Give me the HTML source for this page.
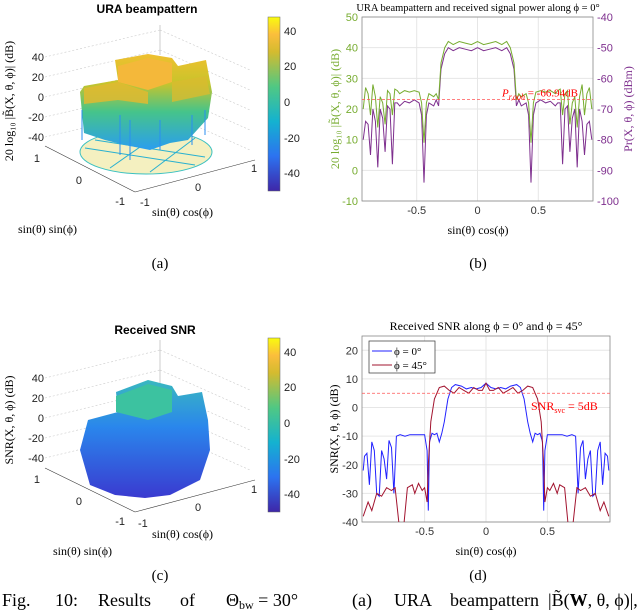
<!DOCTYPE html>
<html><head><meta charset="utf-8">
<style>
html,body{margin:0;padding:0;background:#fff;}
svg{display:block;font-family:"Liberation Sans",sans-serif;}
.serif{font-family:"Liberation Serif",serif;}
</style></head>
<body>
<svg id="fig" width="640" height="611" viewBox="0 0 640 611" xmlns="http://www.w3.org/2000/svg">
<defs>
<linearGradient id="parula" x1="0" y1="1" x2="0" y2="0">
<stop offset="0" stop-color="#3e26a8"/><stop offset="0.2" stop-color="#2c73f0"/><stop offset="0.4" stop-color="#14b2d0"/><stop offset="0.6" stop-color="#50c883"/><stop offset="0.8" stop-color="#d4bb2f"/><stop offset="0.9" stop-color="#fbbe3c"/><stop offset="1" stop-color="#f9fb0e"/>
</linearGradient>
<linearGradient id="surfA" x1="0" y1="0" x2="0" y2="1">
<stop offset="0" stop-color="#f0c030"/><stop offset="0.3" stop-color="#c9c42a"/><stop offset="0.6" stop-color="#46c48a"/><stop offset="1" stop-color="#2a9ef0"/>
</linearGradient>
<linearGradient id="surfC" x1="0" y1="0" x2="0" y2="1">
<stop offset="0" stop-color="#3ab8c0"/><stop offset="0.4" stop-color="#2a86ec"/><stop offset="1" stop-color="#3a3ad0"/>
</linearGradient>
</defs>

<!-- ===== (a) 3D beampattern ===== -->
<g>
<text x="147" y="13" font-size="12" font-weight="bold" text-anchor="middle">URA beampattern</text>
<g stroke="#ccc" stroke-width="0.6" stroke-dasharray="2,2" fill="none">
<line x1="45" y1="57" x2="160" y2="30"/><line x1="45" y1="77" x2="160" y2="50"/><line x1="45" y1="97" x2="160" y2="70"/><line x1="45" y1="117" x2="160" y2="90"/><line x1="45" y1="137" x2="160" y2="110"/>
<line x1="160" y1="30" x2="250" y2="70"/><line x1="160" y1="50" x2="250" y2="90"/><line x1="160" y1="70" x2="250" y2="110"/><line x1="160" y1="90" x2="250" y2="130"/><line x1="160" y1="110" x2="250" y2="150"/>
</g>
<line x1="160" y1="25" x2="160" y2="55" stroke="#ccc" stroke-width="1"/>
<g stroke="#333" stroke-width="0.6" fill="none"><line x1="45" y1="146" x2="135" y2="192"/><line x1="135" y1="192" x2="255" y2="160"/></g>
<ellipse cx="146" cy="152" rx="66" ry="22" fill="#f4f0c0" stroke="#3ac0c0" stroke-width="1"/>
<g stroke="#28b0d0" stroke-width="1" fill="none"><line x1="85" y1="148" x2="195" y2="165"/><line x1="95" y1="140" x2="205" y2="157"/><line x1="110" y1="168" x2="160" y2="133"/><line x1="150" y1="172" x2="195" y2="138"/></g>
<polygon points="80,92 84,86 118,80 115,60 148,54 172,58 178,66 206,60 212,92 208,118 188,140 170,143 150,150 125,145 105,140 84,133" fill="url(#surfA)"/>
<polygon points="118,66 148,58 172,63 172,82 148,90 118,82" fill="#f4b83a"/>
<polygon points="84,88 118,82 148,92 148,104 118,100 84,104" fill="#e0ba30" opacity="0.85"/>
<polygon points="172,82 206,76 210,94 172,102" fill="#d8bc30" opacity="0.8"/>
<g stroke="#2a8ef0" stroke-width="1"><line x1="82" y1="110" x2="82" y2="140"/><line x1="120" y1="115" x2="120" y2="155"/><line x1="130" y1="120" x2="130" y2="160"/><line x1="192" y1="115" x2="192" y2="145"/><line x1="160" y1="120" x2="160" y2="150"/><line x1="205" y1="110" x2="205" y2="135"/></g>
<g font-size="11" fill="#222" text-anchor="end">
<text x="44" y="61">40</text><text x="44" y="81">20</text><text x="44" y="101">0</text><text x="44" y="121">-20</text><text x="44" y="141">-40</text>
<text x="40" y="162">1</text><text x="82" y="184">0</text><text x="125" y="205">-1</text>
</g>
<g font-size="11" fill="#222"><text x="140" y="206">-1</text><text x="195" y="191">0</text><text x="251" y="172">1</text></g>
<text class="serif" x="152" y="216" font-size="12">sin(θ) cos(ϕ)</text>
<text class="serif" x="18" y="233" font-size="12">sin(θ) sin(ϕ)</text>
<text class="serif" transform="translate(13,101) rotate(-90)" font-size="12" text-anchor="middle">20 log₁₀ |B̃(X, θ, ϕ)| (dB)</text>
<rect x="268" y="17" width="12" height="174" fill="url(#parula)" stroke="#666" stroke-width="0.5"/>
<g font-size="11" fill="#222"><text x="284" y="35">40</text><text x="284" y="70">20</text><text x="284" y="106">0</text><text x="284" y="142">-20</text><text x="284" y="177">-40</text></g>
<text class="serif" x="160" y="268" font-size="15" text-anchor="middle">(a)</text>
</g>

<!-- ===== (c) 3D SNR ===== -->
<g>
<text x="155" y="334" font-size="12" font-weight="bold" text-anchor="middle">Received SNR</text>
<g stroke="#ccc" stroke-width="0.6" stroke-dasharray="2,2" fill="none">
<line x1="45" y1="378" x2="160" y2="350"/><line x1="45" y1="398" x2="160" y2="370"/><line x1="45" y1="418" x2="160" y2="390"/><line x1="45" y1="438" x2="160" y2="410"/><line x1="45" y1="458" x2="160" y2="430"/>
<line x1="160" y1="350" x2="250" y2="390"/><line x1="160" y1="370" x2="250" y2="410"/><line x1="160" y1="390" x2="250" y2="430"/><line x1="160" y1="410" x2="250" y2="450"/><line x1="160" y1="430" x2="250" y2="470"/>
</g>
<line x1="160" y1="340" x2="160" y2="400" stroke="#ccc" stroke-width="1"/>
<g stroke="#333" stroke-width="0.6" fill="none"><line x1="45" y1="468" x2="135" y2="512"/><line x1="135" y1="512" x2="255" y2="480"/></g>
<polygon points="80,450 88,420 118,412 116,392 148,380 172,386 178,396 202,392 208,420 210,450 200,480 170,495 145,498 115,495 90,485" fill="url(#surfC)"/>
<polygon points="116,396 148,384 172,390 172,412 148,420 116,412" fill="#3cc2a0"/>
<g font-size="11" fill="#222" text-anchor="end">
<text x="44" y="382">40</text><text x="44" y="402">20</text><text x="44" y="422">0</text><text x="44" y="442">-20</text><text x="44" y="462">-40</text>
<text x="40" y="483">1</text><text x="82" y="505">0</text><text x="125" y="525">-1</text>
</g>
<g font-size="11" fill="#222"><text x="138" y="527">-1</text><text x="195" y="511">0</text><text x="251" y="493">1</text></g>
<text class="serif" x="152" y="538" font-size="12">sin(θ) cos(ϕ)</text>
<text class="serif" x="53" y="555" font-size="12">sin(θ) sin(ϕ)</text>
<text class="serif" transform="translate(13,420) rotate(-90)" font-size="12" text-anchor="middle">SNR(X, θ, ϕ) (dB)</text>
<rect x="268" y="338" width="12" height="174" fill="url(#parula)" stroke="#666" stroke-width="0.5"/>
<g font-size="11" fill="#222"><text x="284" y="356">40</text><text x="284" y="391">20</text><text x="284" y="427">0</text><text x="284" y="463">-20</text><text x="284" y="498">-40</text></g>
<text class="serif" x="160" y="580" font-size="15" text-anchor="middle">(c)</text>
</g>

<g id="panelB"></g>
<g id="panelD"></g>
<text class="serif" x="478" y="268" font-size="15" text-anchor="middle">(b)</text>
<text class="serif" x="478" y="580" font-size="15" text-anchor="middle">(d)</text>
<g class="serif" font-size="18">
<text x="2" y="606">Fig.</text>
<text x="55" y="606">10:</text>
<text x="98" y="606">Results</text>
<text x="180" y="606">of</text>
<text x="226" y="606">Θ<tspan font-size="12" dy="3">bw</tspan><tspan dy="-3"> = 30°</tspan></text>
<text x="352" y="606">(a)</text>
<text x="394" y="606">URA</text>
<text x="450" y="606">beampattern</text>
<text x="548" y="606">|B̃(<tspan font-weight="bold">W</tspan>, θ, ϕ)|,</text>
</g>
</svg>
<script>
// ---- Panel (b) data ----
const bX = [-0.94,-0.92,-0.90,-0.88,-0.86,-0.84,-0.82,-0.80,-0.78,-0.76,-0.74,-0.72,-0.70,-0.68,-0.66,-0.64,-0.60,-0.56,-0.52,-0.48,-0.46,-0.44,-0.42,-0.40,-0.36,-0.34,-0.32,-0.30,-0.27,-0.24,-0.20,-0.15,-0.10,-0.05,0,0.05,0.10,0.15,0.20,0.24,0.27,0.30,0.32,0.34,0.36,0.40,0.42,0.44,0.46,0.48,0.52,0.56,0.60,0.64,0.66,0.68,0.70,0.72,0.74,0.76,0.78,0.80,0.82,0.84,0.86,0.88,0.90,0.92,0.94];
const bGain = [20,27,25,18,28,24,14,24,22,15,26,25,18,26.5,26,25,26,25.5,26,25.5,22,9,22,25,24,25,23,35,40,42,41,42,41.5,41,42,41,41.5,42,41,42,40,35,23,25,24,25,22,9,22,25.5,26,25.5,26,25,26,26.5,18,25,26,15,22,24,14,24,28,18,25,27,20];
const bPower = [-80,-74,-75,-85,-70,-74,-89,-70,-73,-84,-69,-70,-88,-68,-68,-69,-67.5,-68,-67,-68,-72,-94,-72,-68,-69,-67,-69,-57,-52,-50,-51,-50,-50.5,-51,-50,-51,-50.5,-50,-51,-50,-52,-57,-69,-67,-69,-68,-72,-94,-72,-68,-67,-68,-67.5,-69,-68,-68,-88,-70,-69,-84,-73,-70,-89,-70,-74,-85,-75,-74,-80];
const bXTicks = [-0.5,0,0.5];
const bLeftTicks = [-10,0,10,20,30,40,50];
const bRightTicks = [-100,-90,-80,-70,-60,-50,-40];
const bThreshold = -66.94;
// ---- Panel (d) data ----
const dX = [-1,-0.99,-0.97,-0.95,-0.93,-0.91,-0.89,-0.87,-0.85,-0.83,-0.81,-0.79,-0.77,-0.75,-0.73,-0.70,-0.66,-0.62,-0.58,-0.54,-0.50,-0.48,-0.47,-0.46,-0.44,-0.42,-0.40,-0.38,-0.36,-0.34,-0.31,-0.28,-0.25,-0.20,-0.16,-0.12,-0.08,-0.04,0,0.04,0.08,0.12,0.16,0.20,0.25,0.28,0.31,0.34,0.36,0.38,0.40,0.42,0.44,0.46,0.47,0.48,0.50,0.54,0.58,0.62,0.66,0.70,0.73,0.75,0.77,0.79,0.81,0.83,0.85,0.87,0.89,0.91,0.93,0.95,0.97,0.99,1];
const snrPhi0 = [-22,-17,-16,-27,-12,-15,-30,-31,-15,-18,-25,-11.5,-14,-30,-10,-9.5,-10,-9.5,-9.5,-9.5,-9.5,-15,-36,-12,-9,-9.5,-9,-12,-9,-5,3,7,8,7.5,6.5,7,6.5,7,8.5,7,6.5,7,6.5,7.5,8,7,3,-5,-9,-12,-9,-9.5,-9,-12,-36,-15,-9.5,-9.5,-9.5,-9.5,-10,-9.5,-10,-30,-14,-11.5,-25,-18,-15,-31,-30,-15,-12,-27,-16,-17,-22];
const dX45 = [-1,-0.96,-0.93,-0.89,-0.85,-0.81,-0.77,-0.74,-0.71,-0.68,-0.64,-0.60,-0.58,-0.55,-0.52,-0.50,-0.48,-0.47,-0.45,-0.42,-0.38,-0.34,-0.30,-0.26,-0.22,-0.18,-0.14,-0.10,-0.06,-0.03,0,0.03,0.06,0.10,0.14,0.18,0.22,0.26,0.30,0.34,0.38,0.42,0.45,0.47,0.48,0.50,0.52,0.55,0.58,0.60,0.64,0.68,0.71,0.74,0.77,0.81,0.85,0.89,0.93,0.96,1];
const snrPhi45 = [-38,-33,-36,-30,-31,-28,-29,-28,-40,-46,-28,-27,-30,-26.5,-29,-28,-33,-20,-5,3,7,7.5,6,5,7,6,5,7,6,6,8.5,6,6,7,5,6,7,5,6,7.5,7,3,-5,-20,-33,-28,-29,-26.5,-30,-27,-28,-46,-40,-28,-29,-28,-31,-30,-36,-33,-38];
const dXTicks = [-0.5,0,0.5];
const dYTicks = [-40,-30,-20,-10,0,10,20];
const dThreshold = 5;

const NS = "http://www.w3.org/2000/svg";
function mk(parent, tag, attrs, text) {
  const e = document.createElementNS(NS, tag);
  for (const k in attrs) e.setAttribute(k, attrs[k]);
  if (text !== undefined) e.textContent = text;
  parent.appendChild(e);
  return e;
}
function pathFrom(xs, ys, sx, sy, lo, hi) {
  return xs.map((x, i) => (i ? "L" : "M") + sx(x).toFixed(1) + "," + sy(Math.max(lo, Math.min(hi, ys[i]))).toFixed(1)).join(" ");
}

// ---------- Panel (b) ----------
(function () {
  const g = document.getElementById("panelB");
  const L = 362, R = 593, T = 17, B = 201;
  const sx = v => L + (v + 0.95) / 1.9 * (R - L);
  const sy = v => B - (v + 10) / 60 * (B - T);
  const syR = v => B - (v + 100) / 60 * (B - T);
  const t = mk(g, "text", {x: 478, y: 11, "font-size": 10.5, "text-anchor": "middle", class: "serif"}, "URA beampattern and received signal power along ϕ = 0°");
  
  
  for (const v of bXTicks) {
    const l = mk(g, "line", {x1: sx(v), x2: sx(v), y1: T, y2: B, stroke: "#e6e6e6", "stroke-width": 1});
    
    
    const tx = mk(g, "text", {x: sx(v), y: B + 13, "font-size": 11, "text-anchor": "middle", fill: "#333"}, String(v));
    
    
  }
  bLeftTicks.forEach((v, i) => {
    const l = mk(g, "line", {x1: L, x2: R, y1: sy(v), y2: sy(v), stroke: "#e6e6e6", "stroke-width": 1});
    
    
    const tl = mk(g, "text", {x: L - 4, y: sy(v) + 4, "font-size": 11, "text-anchor": "end", fill: "#77ac30"}, String(v));
    
    
    const rv = bRightTicks[i];
    const tr = mk(g, "text", {x: R + 4, y: syR(rv) + 4, "font-size": 11, fill: "#7e2f8e"}, String(rv));
    
    
  });
  const box = mk(g, "rect", {x: L, y: T, width: R - L, height: B - T, fill: "none", stroke: "#888", "stroke-width": 0.8});
  
  
  const pp = mk(g, "path", {d: pathFrom(bX, bPower, sx, syR, -100, -40), fill: "none", stroke: "#7e2f8e", "stroke-width": 1});
  
  
  const gp = mk(g, "path", {d: pathFrom(bX, bGain, sx, sy, -10, 50), fill: "none", stroke: "#77ac30", "stroke-width": 1});
  
  
  const th = mk(g, "line", {x1: L, x2: R, y1: syR(bThreshold), y2: syR(bThreshold), stroke: "#ff5555", "stroke-width": 0.8, "stroke-dasharray": "3,2"});
  
  
  const tt = mk(g, "text", {x: 502, y: syR(bThreshold) - 3, "font-size": 11, fill: "#ff0000", class: "serif"}, "P");
  
  
  tt.setAttribute("font-style", "italic");
  mk(tt, "tspan", {"font-size": 8, dy: 3}, "r,ooh");
  mk(tt, "tspan", {dy: -3, "font-style": "normal"}, " = " + bThreshold.toFixed(2) + "dB");
  const xl = mk(g, "text", {x: 478, y: 234, "font-size": 12, "text-anchor": "middle", class: "serif"}, "sin(θ) cos(ϕ)");
  
  
  const yl = mk(g, "text", {transform: "translate(339,109) rotate(-90)", "font-size": 12, "text-anchor": "middle", fill: "#77ac30", class: "serif"}, "20 log₁₀ |B̃(X, θ, ϕ)| (dB)");
  
  
  const yr = mk(g, "text", {transform: "translate(632,109) rotate(-90)", "font-size": 12, "text-anchor": "middle", fill: "#7e2f8e", class: "serif"}, "Pr(X, θ, ϕ) (dBm)");
  
  
})();

// ---------- Panel (d) ----------
(function () {
  const g = document.getElementById("panelD");
  const L = 362, R = 610, T = 336, B = 522;
  const sx = v => L + (v + 1.01) / 2.02 * (R - L);
  const sy = v => B - (v + 40) / 65 * (B - T);
  const t = mk(g, "text", {x: 486, y: 330, "font-size": 12, "text-anchor": "middle", class: "serif"}, "Received SNR along ϕ = 0° and ϕ = 45°");
  
  
  for (const v of dXTicks) {
    const l = mk(g, "line", {x1: sx(v), x2: sx(v), y1: T, y2: B, stroke: "#e6e6e6", "stroke-width": 1});
    
    
    const tx = mk(g, "text", {x: sx(v), y: B + 13, "font-size": 11, "text-anchor": "middle", fill: "#333"}, String(v));
    
    
  }
  for (const v of dYTicks) {
    const l = mk(g, "line", {x1: L, x2: R, y1: sy(v), y2: sy(v), stroke: "#e6e6e6", "stroke-width": 1});
    
    
    const tl = mk(g, "text", {x: L - 4, y: sy(v) + 4, "font-size": 11, "text-anchor": "end", fill: "#333"}, String(v));
    
    
  }
  const box = mk(g, "rect", {x: L, y: T, width: R - L, height: B - T, fill: "none", stroke: "#888", "stroke-width": 0.8});
  
  
  const clip = mk(g, "clipPath", {id: "clipD"});
  mk(clip, "rect", {x: L, y: T, width: R - L, height: B - T});
  const p0 = mk(g, "path", {d: pathFrom(dX, snrPhi0, sx, sy, -60, 25), fill: "none", stroke: "#2222ff", "stroke-width": 1, "clip-path": "url(#clipD)"});
  
  
  const p45 = mk(g, "path", {d: pathFrom(dX45, snrPhi45, sx, sy, -60, 25), fill: "none", stroke: "#a2142f", "stroke-width": 1, "clip-path": "url(#clipD)"});
  
  
  const th = mk(g, "line", {x1: L, x2: R, y1: sy(dThreshold), y2: sy(dThreshold), stroke: "#ff5555", "stroke-width": 0.8, "stroke-dasharray": "3,2"});
  
  
  const tt = mk(g, "text", {x: 531, y: sy(dThreshold) + 17, "font-size": 12, fill: "#ff0000", class: "serif"}, "SNR");
  
  
  mk(tt, "tspan", {"font-size": 8, dy: 3}, "svc");
  mk(tt, "tspan", {dy: -3}, " = " + dThreshold + "dB");
  const lg = mk(g, "g", {});
  
  
  mk(lg, "rect", {x: 369, y: 341, width: 66, height: 32, fill: "#fff", stroke: "#333", "stroke-width": 0.7});
  const e1 = mk(lg, "g", {});
  
  
  mk(e1, "line", {x1: 372, x2: 392, y1: 351, y2: 351, stroke: "#2222ff", "stroke-width": 1});
  mk(e1, "text", {x: 394, y: 355, "font-size": 11, class: "serif"}, "ϕ = 0°");
  const e2 = mk(lg, "g", {});
  
  
  mk(e2, "line", {x1: 372, x2: 392, y1: 365, y2: 365, stroke: "#a2142f", "stroke-width": 1});
  mk(e2, "text", {x: 394, y: 369, "font-size": 11, class: "serif"}, "ϕ = 45°");
  const xl = mk(g, "text", {x: 486, y: 555, "font-size": 12, "text-anchor": "middle", class: "serif"}, "sin(θ) cos(ϕ)");
  
  
  const yl = mk(g, "text", {transform: "translate(338,429) rotate(-90)", "font-size": 12, "text-anchor": "middle", class: "serif"}, "SNR(X, θ, ϕ) (dB)");
  
  
})();
</script>
</body></html>
